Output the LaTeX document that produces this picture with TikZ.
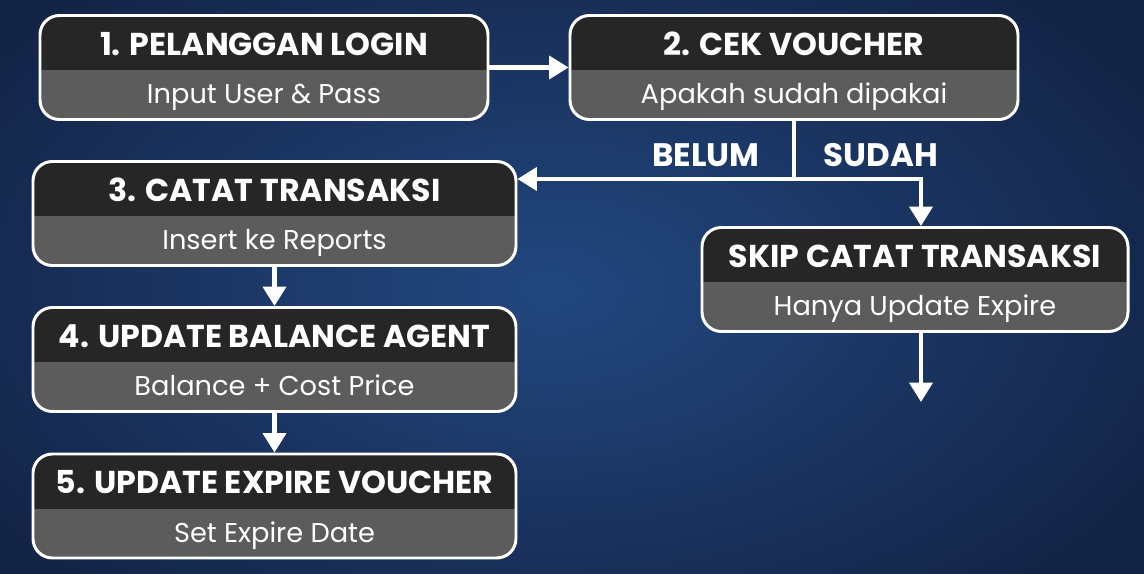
\documentclass[tikz,border=0pt]{standalone}
\usepackage{fontspec}
\setmainfont{Poppins}
\usetikzlibrary{arrows.meta,calc}
\definecolor{bgin}{RGB}{34,72,128}
\definecolor{bgout}{RGB}{19,35,70}
\definecolor{testa}{RGB}{38,38,38}
\definecolor{corpo}{RGB}{92,92,92}
\def\u{0.02cm}
\tikzset{
  stepbox/.style={draw=white, line width=1.7pt, rounded corners=11pt, fill=corpo, inner sep=0pt,
    minimum height=104*\u,
    path picture={\fill[testa, sharp corners] ($(path picture bounding box.north west)+(-5,-5)$) rectangle ($(path picture bounding box.north east)+(5,55)$);}},
  titolo/.style={anchor=base, text=white, font=\bfseries\fontsize{18}{21}\selectfont, inner sep=0pt},
  sotto/.style={anchor=base, text=white, font=\fontsize{15.5}{18}\selectfont, inner sep=0pt},
  ramolab/.style={text=white, font=\bfseries\fontsize{18.5}{21}\selectfont, inner sep=0pt},
  freccia/.style={white, line width=2.3pt, -{Triangle[length=11pt,width=13pt]}}
}
\begin{document}
\begin{tikzpicture}[x=\u, y=-\u]
    \useasboundingbox (0,0) rectangle (1144,574);
    %sfondo
    \shade[inner color=bgin, outer color=bgout] (-150,-120) rectangle (1250,700);
    %box 1 e 2
    \node[stepbox, minimum width=448*\u] (login) at (264,67.5) {};
    \node[titolo] (login-t) at ($(login.north)+(0,41)$) {1. PELANGGAN LOGIN};
    \node[sotto] (login-s) at ($(login.south)+(0,-17)$) {Input User \& Pass};
    \node[stepbox, minimum width=448*\u] (cek) at (794,67.5) {};
    \node[titolo] (cek-t) at ($(cek.north)+(0,41)$) {2. CEK VOUCHER};
    \node[sotto] (cek-s) at ($(cek.south)+(0,-17)$) {Apakah sudah dipakai};
    %colonna sinistra
    \node[stepbox, minimum width=483*\u] (catat) at (274.5,213.5) {};
    \node[titolo] (catat-t) at ($(catat.north)+(0,41)$) {3. CATAT TRANSAKSI};
    \node[sotto] (catat-s) at ($(catat.south)+(0,-17)$) {Insert ke Reports};
    \node[stepbox, minimum width=483*\u] (balance) at (274.5,359.5) {};
    \node[titolo] (balance-t) at ($(balance.north)+(0,41)$) {4. UPDATE BALANCE AGENT};
    \node[sotto] (balance-s) at ($(balance.south)+(0,-17)$) {Balance + Cost Price};
    \node[stepbox, minimum width=483*\u] (expire) at (274.5,506) {};
    \node[titolo] (expire-t) at ($(expire.north)+(0,41)$) {5. UPDATE EXPIRE VOUCHER};
    \node[sotto] (expire-s) at ($(expire.south)+(0,-17)$) {Set Expire Date};
    %ramo sudah
    \node[stepbox, minimum width=426*\u] (skip) at (915,279.5) {};
    \node[titolo] (skip-t) at ($(skip.north)+(0,41)$) {SKIP CATAT TRANSAKSI};
    \node[sotto] (skip-s) at ($(skip.south)+(0,-17)$) {Hanya Update Expire};
    %frecce
    \draw[freccia] (login.east) -- (cek.west);
    \coordinate (bivio) at (794,179);
    \coordinate (ramo) at (921,179);
    \coordinate (fine) at (921,402);
    \draw[white, line width=2.3pt] (cek.south) -- (bivio);
    \draw[freccia] (bivio) -- (catat.east |- bivio);
    \draw[freccia] (bivio) -- (ramo) -- (ramo |- skip.north);
    \draw[freccia] (ramo |- skip.south) -- (fine);
    \draw[freccia] (catat.south) -- (balance.north);
    \draw[freccia] (balance.south) -- (expire.north);
    %etichette
    \node[ramolab] (belum) at (706,155) {BELUM};
    \node[ramolab] (sudah) at (881,155) {SUDAH};
\end{tikzpicture}
\end{document}
